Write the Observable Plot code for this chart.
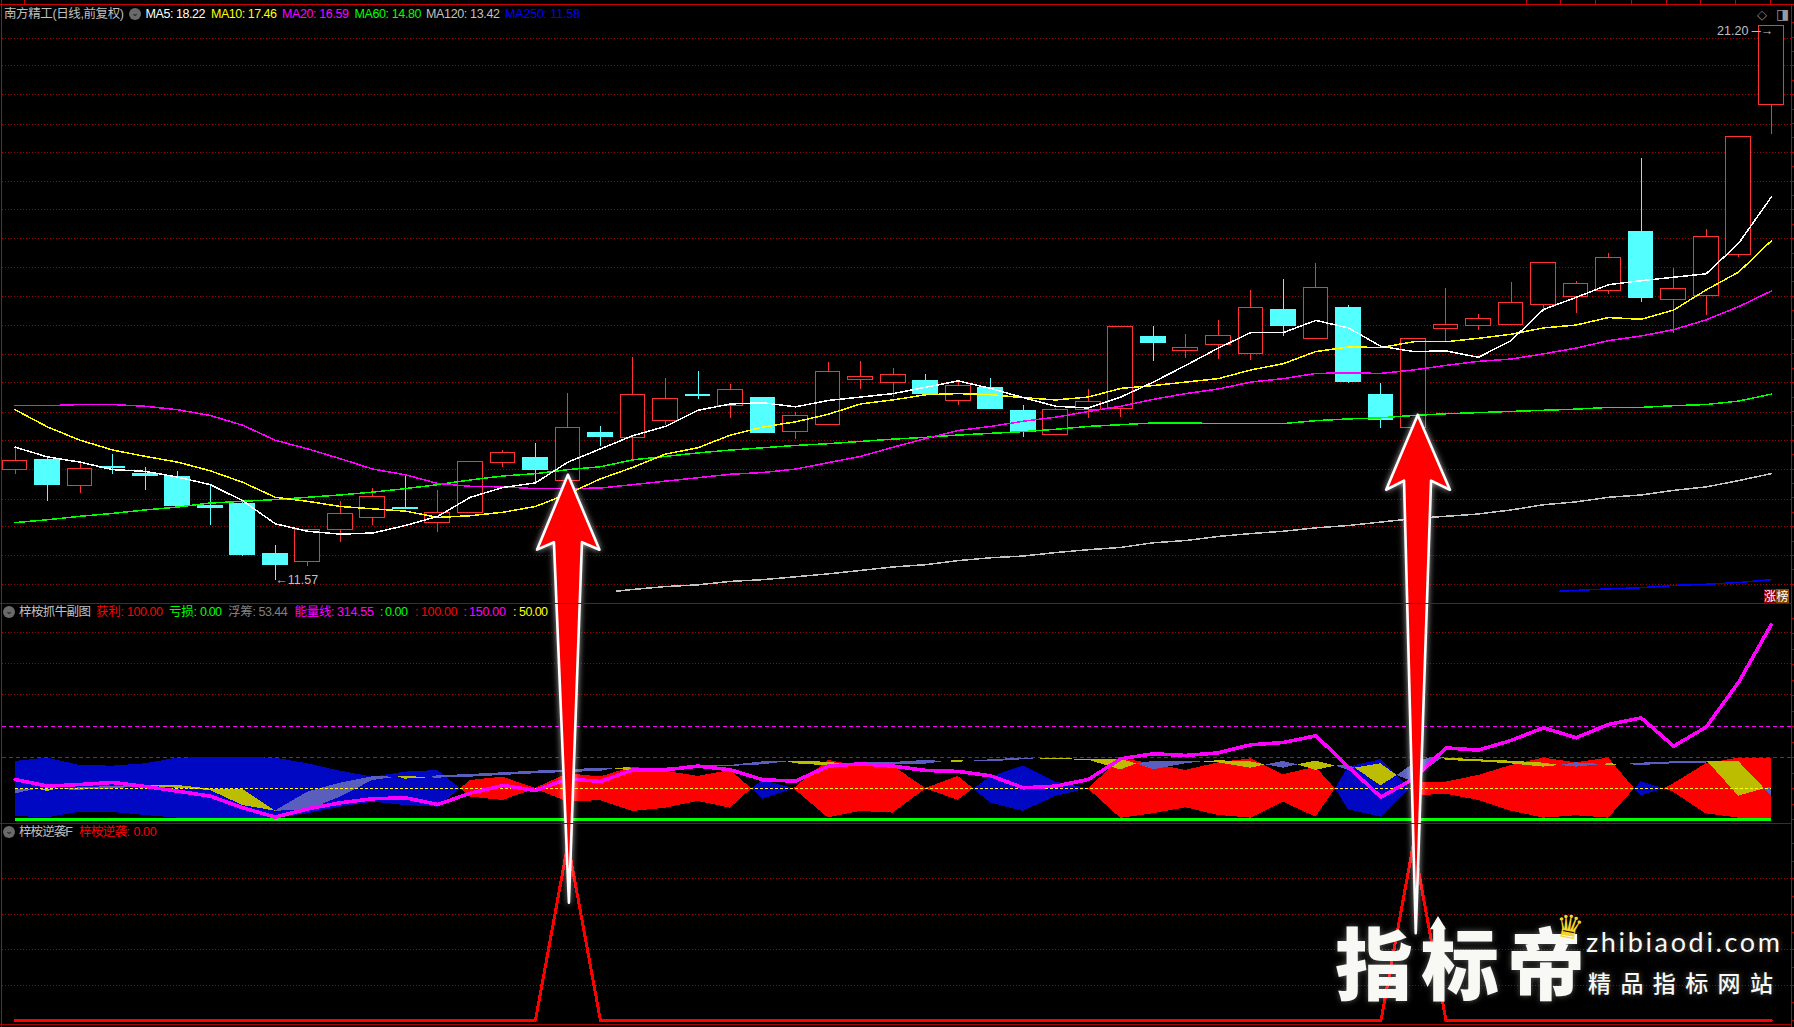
<!DOCTYPE html>
<html><head><meta charset="utf-8">
<script src="https://cdn.jsdelivr.net/npm/d3@7"></script>
<script src="https://cdn.jsdelivr.net/npm/@observablehq/plot@0.6"></script>
<style>
html,body{margin:0;padding:0;background:#000;overflow:hidden}
#root{position:relative;width:1794px;height:1027px;background:#000;overflow:hidden}
#root svg{position:absolute;left:0;display:block;max-width:none}
.lb{position:absolute;white-space:nowrap;line-height:1;transform:translateY(-50%);font-family:"Liberation Sans Narrow","Liberation Sans","Noto Sans CJK SC",sans-serif;font-size:12.5px}
.bar{position:absolute;background:#a80000}
.ic{position:absolute;width:12px;height:12px;border-radius:50%;background:#6a6a6a;color:#222;font:bold 9px/11px "DejaVu Sans";text-align:center}
</style></head><body><div id="root"></div>
<script>
// ---------- main pane data (prices) ----------
const opens=[13.48,13.65,13.20,13.54,13.41,13.37,12.85,12.90,12.02,11.88,12.45,12.65,12.82,12.56,12.73,13.60,13.70,13.30,14.13,14.04,14.34,14.79,14.60,14.74,14.14,14.26,15.04,14.99,15.02,14.68,14.90,14.50,14.09,14.53,14.54,15.79,15.55,15.65,15.49,16.26,15.75,16.30,14.79,14.22,15.93,15.98,16.00,16.34,16.48,16.59,17.61,16.44,16.51,17.21,19.82];
const closes=[13.64,13.22,13.50,13.52,13.38,12.85,12.83,12.00,11.83,12.45,12.72,13.02,12.80,12.74,13.63,13.78,13.48,14.22,14.05,14.79,14.71,14.76,14.88,14.13,14.42,15.19,15.10,15.14,14.81,14.95,14.55,14.15,14.53,14.67,15.97,15.68,15.60,15.81,16.30,15.98,16.65,15.01,14.35,15.76,16.00,16.11,16.39,17.08,16.72,17.17,16.47,16.62,17.52,19.27,21.20];
const highs=[13.86,13.71,13.62,13.75,13.53,13.46,13.20,12.94,12.17,12.45,12.94,13.16,13.39,13.13,13.63,13.82,13.94,14.81,14.24,15.43,15.08,15.19,14.96,14.74,14.48,15.35,15.36,15.25,15.14,15.02,15.07,14.60,14.55,14.88,15.97,15.97,15.84,16.08,16.60,16.79,17.06,16.34,14.98,15.76,16.63,16.18,16.74,17.08,16.76,17.24,18.89,16.99,17.66,19.27,21.20];
const lows=[13.41,12.94,13.08,13.41,13.12,12.82,12.52,11.98,11.57,11.80,12.23,12.52,12.80,12.39,12.73,13.52,13.24,13.30,13.90,13.67,14.26,14.70,14.38,14.12,14.02,14.26,14.88,14.74,14.76,14.61,14.55,14.05,14.09,14.38,14.40,15.37,15.42,15.41,15.39,15.80,15.75,14.99,14.21,14.22,15.71,15.91,16.00,16.27,16.20,16.53,16.40,15.86,16.17,17.17,19.30];
const ma5=[13.88,13.71,13.62,13.49,13.46,13.36,13.23,12.95,12.55,12.42,12.37,12.39,12.52,12.68,13.01,13.18,13.26,13.62,13.85,14.08,14.24,14.52,14.63,14.65,14.58,14.69,14.75,14.81,14.92,15.03,14.90,14.74,14.59,14.56,14.75,15.01,15.30,15.60,15.87,15.87,16.08,15.95,15.63,15.54,15.55,15.44,15.73,16.27,16.48,16.70,16.77,16.83,16.89,17.42,18.22];
const ma10=[14.53,14.23,14.00,13.83,13.72,13.62,13.47,13.27,13.01,12.94,12.85,12.81,12.77,12.66,12.69,12.75,12.85,13.07,13.33,13.53,13.76,13.87,14.09,14.23,14.32,14.45,14.63,14.70,14.79,14.81,14.79,14.74,14.70,14.75,14.90,14.95,15.01,15.07,15.22,15.33,15.54,15.62,15.61,15.71,15.71,15.77,15.84,15.95,16.00,16.13,16.10,16.26,16.61,16.92,17.46];
const ma20=[14.60,14.60,14.62,14.62,14.59,14.53,14.43,14.26,14.00,13.85,13.68,13.50,13.40,13.25,13.20,13.19,13.16,13.16,13.17,13.23,13.29,13.35,13.41,13.44,13.50,13.61,13.72,13.88,14.03,14.17,14.24,14.33,14.40,14.50,14.59,14.71,14.81,14.89,15.01,15.07,15.16,15.17,15.16,15.22,15.30,15.37,15.41,15.50,15.60,15.73,15.81,15.92,16.09,16.32,16.59];
const ma60=[12.57,12.62,12.68,12.73,12.79,12.84,12.91,12.94,12.97,13.01,13.05,13.10,13.16,13.23,13.31,13.38,13.42,13.49,13.54,13.66,13.72,13.78,13.83,13.87,13.91,13.94,13.98,14.02,14.05,14.09,14.12,14.15,14.19,14.24,14.27,14.30,14.30,14.29,14.29,14.29,14.34,14.37,14.39,14.43,14.46,14.48,14.50,14.52,14.54,14.57,14.57,14.60,14.62,14.68,14.80];
const ma120Idx=[18.5,19,20,21,22,23,24,25,26,27,28,29,30,31,32,33,34,35,36,37,38,39,40,41,42,43,44,45,46,47,48,49,50,51,52,53,54];
const ma120=[11.38,11.41,11.46,11.49,11.55,11.58,11.63,11.68,11.74,11.80,11.84,11.91,11.96,11.99,12.05,12.10,12.14,12.22,12.26,12.33,12.38,12.42,12.48,12.52,12.58,12.64,12.68,12.72,12.79,12.88,12.93,13.01,13.05,13.13,13.19,13.30,13.42];
const ma250Idx=[47.5,49,50,51,52,53,54];
const ma250=[11.38,11.42,11.44,11.48,11.50,11.53,11.58];
const priceGrid=[20.98,20.50,20.00,19.49,18.99,18.49,18.00,17.50,17.00,16.49,15.99,15.49,15.00,14.49,13.99,13.49,12.98,12.50,12.00,11.49];

// ---------- indicator pane ----------
const energy=[65,54.3,57,60.2,53.8,46.2,38.2,19.4,4.3,17.7,27.4,33.9,35.5,24.7,43,55.4,47.3,66.1,61.8,80.6,80.6,86.6,80.6,64.5,62.4,86.6,90.3,86.6,79.6,78,71,51.6,54.3,65,98.4,106.5,103.8,108,121,124.7,135.5,85,36.6,66,116,112.4,128,148.4,132.3,153.8,164.5,118.8,149.5,222,314.55];
const bandIdx=[0,1,2,3,4,5,6,7,8,9,10,11,12,13,13.7,14,15,16,17,18,19,20,21,22,22.65,23,23.95,25,26,27,28,29,29.47,30,31,32,33,34,35,36,37,38,39,40,40.6,41,42,42.9,43.3,44,45,46,47,48,49,49.8,50,50.7,51,52,53,54];
const bandTop=[94.1,99.5,87.6,86.6,90.3,99.5,100,100,99.5,90.3,78.5,68.8,76.9,79.6,50,63.4,68.8,50.5,74.2,69,84.9,78.5,69.9,79.6,50,63.4,50,95.7,86.6,86.6,50.5,69.9,50,68.8,86.6,60.8,50,98.4,90.3,79.6,91.9,98.4,72.6,84.9,50,84.9,96.8,50,60.8,60.8,71.5,87.6,99.5,91.9,99.5,50,61.3,50,58,90.3,99.5,99.5];
const bandBot=[5.4,3.2,12.4,11.8,7,2.7,2.7,2.7,2.7,9.7,20.4,28.5,23.1,20.4,50,36.6,31.2,49.5,28.5,31,13.4,18.8,29.6,18.8,50,33.3,50,3.2,13.4,10.8,49.5,31.7,50,26.9,13.4,37.6,50,2.2,9.7,19.4,7,2.7,28.5,4.3,50,16.1,4.3,50,39.2,41.4,31.2,14,2.7,6.5,2.7,50,38.2,50,44.6,9.7,2.7,2.7];
const chipIdx=[0,0.7,1,1.2,2,3,4,5,6,7,8,9,10,11,11.77,12,12.7,13,14,15,16,17,18,18.4,18.8,19.2,20,21,22,23,23.75,24,25,25.4,26,27,28,28.6,29,29.3,30,31,31.4,32,33,34,34.5,35,36,36.5,37,38,38.46,39,39.45,40,40.6,41,41.2,42,42.5,43,43.5,43.9,44,45,46,47,47.5,48,48.8,49,49.5,50,51,52,52.05,53,53.8,54];
const chipTop=[48.9,49.5,49.5,48.4,51.6,53.8,54.3,55.4,49.5,48.9,14,44.6,59.1,69.4,68.8,70.4,67.7,71,73.1,75.8,78.5,80.6,83.3,82.3,83.9,82.8,83.3,86.6,87.6,93.5,93.5,94,93,90.3,91.4,92.5,95.7,94,95.7,94,96.8,99.5,98.4,98.9,97.3,97.3,90.3,94,94.6,93.5,95.2,93.5,88.7,94,88.7,94.6,86.6,87.6,83.3,90.3,71.5,90.3,100,100,99.5,96.8,94.6,91.4,87.6,91.9,89.2,90.3,89.2,91.4,93.5,94,93.5,94,50,52.7];
const chipBot=[41.9,49.5,45.7,48.4,47.8,49.5,54.3,51,47.3,23.1,14,15,36.6,63.4,68.8,65.6,67.7,67.2,68.8,71.5,74.2,76.3,78,82.3,79.6,82.8,81.2,84.9,86,88.7,93.5,90.3,87,90.3,89.2,88.7,89.8,94,92.5,94,93.5,96.8,98.4,96.8,96.2,80.6,90.3,80.6,90.3,93.5,91.9,83.3,88.7,83.3,88.7,79.6,86.6,79.6,83.3,54.8,71.5,60.8,85,100,95.7,93.5,90.3,85,87.6,85,89.2,87.6,89.2,87.6,90.3,91.4,93.5,38.2,50,38.2];
const levels=[150,100];
const midLevel=50;
const subGrid=[301.6,251.6,201.6];

// ---------- signal pane ----------
const signal=[0,0,0,0,0,0,0,0,0,0,0,0,0,0,0,0,0,100,0,0,0,0,0,0,0,0,0,0,0,0,0,0,0,0,0,0,0,0,0,0,0,0,0,100,0,0,0,0,0,0,0,0,0,0,0];
const sigGrid=[80,60,40,20];

// ---------- annotation arrows: [candle index, price level on the extended main scale] ----------
const arrowA=[[17.0,13.40],[17.97,12.10],[17.43,12.23],[17.03,5.97],[16.57,12.23],[16.05,12.10],[17.0,13.40]];
const arrowB=[[43.13,14.44],[44.12,13.14],[43.54,13.30],[43.07,5.44],[42.71,13.30],[42.16,13.14],[43.13,14.44]];

// ---------- text ----------
const headMain=[["南方精工(日线,前复权)",4,120,"#c0c0c0"],["MA5: 18.22",145.5,60,"#ffffff"],["MA10: 17.46",211,66,"#ffff00"],["MA20: 16.59",282,67,"#ff00ff"],["MA60: 14.80",354.5,67,"#00ff00"],["MA120: 13.42",426,74,"#c0c0c0"],["MA250: 11.58",505,75,"#0000ff"]];
const headSub=[["梓桉抓牛副图",19,72,"#c0c0c0"],["获利:",96,28,"#ff0000"],["100.00",127,36,"#ff0000"],["亏损:",169,28,"#00ff00"],["0.00",200,22,"#00ff00"],["浮筹:",228,28,"#808080"],["53.44",258.6,29,"#808080"],["能量线:",294.6,40,"#ff00ff"],["314.55",337,37,"#ff00ff"],[":",380,3,"#00ff00"],["0.00",385,23,"#00ff00"],[":",415,3,"#ff0000"],["100.00",421,36.5,"#ff0000"],[":",463.4,3,"#ff00ff"],["150.00",469,37,"#ff00ff"],[":",513,3,"#ffff00"],["50.00",519,29,"#ffff00"]];
const headSig=[["梓桉逆袭F",19,54,"#c0c0c0"],["梓桉逆袭:",79,51,"#ff0000"],["0.00",133.6,23,"#ff0000"]];

// ---------- build ----------
const candles=opens.map((o,i)=>({i,o,c:closes[i],h:highs[i],l:lows[i],col:closes[i]>=opens[i]?"#ff3232":"#54ffff",up:closes[i]>=opens[i]}));
const xs={type:"linear",domain:[-0.387,54.624],axis:null};
const base={width:1794,marginLeft:2,marginRight:3,marginTop:0,marginBottom:0,x:xs,style:{background:"transparent",overflow:"visible"}};
const G="#a00000";
const CR="crispEdges";
const gridOpts={stroke:G,strokeWidth:1,strokeDasharray:"1 2",shapeRendering:CR};
function seq(arr,ix){return arr.map((v,k)=>({i:ix?ix[k]:k,v}));}
function ln(arr,color,w,ix){return Plot.line(seq(arr,ix),{x:"i",y:"v",stroke:color,strokeWidth:w,curve:"linear",shapeRendering:CR});}
function tickMarks(vals){return Plot.ruleY(vals,{x1:54.624,x2:54.72,stroke:"#a80000",strokeWidth:1,shapeRendering:CR});}

const main=Plot.plot({...base,height:603,y:{domain:[11.166,21.634],range:[603,0],axis:null},color:{type:"identity"},marks:[
  Plot.ruleY(priceGrid,gridOpts),
  tickMarks(d3.range(11.5,21.3,0.25)),
  Plot.ruleX(candles,{x:"i",y1:"l",y2:"h",stroke:"col",strokeWidth:1,shapeRendering:CR}),
  Plot.rect(candles,{x1:d=>d.i-0.38,x2:d=>d.i+0.38,y1:d=>Math.min(d.o,d.c),y2:d=>Math.max(d.o,d.c),fill:d=>d.up?"#000000":"#54ffff",stroke:"col",strokeWidth:1,shapeRendering:CR}),
  ln(ma250,"#0000ff",1.5,ma250Idx),
  ln(ma120,"#c4c4c4",1.5,ma120Idx),
  ln(ma60,"#00ff00",1.5),
  ln(ma20,"#ff00ff",1.5),
  ln(ma10,"#ffff00",1.5),
  ln(ma5,"#ffffff",1.5),
  Plot.text([{i:8,p:11.57}],{x:"i",y:"p",text:()=>"←11.57",dx:0,textAnchor:"start",fill:"#c0c0c0",fontSize:12.5,fontFamily:"Liberation Sans"}),
  Plot.text([{i:54,p:21.0}],{x:"i",y:"p",text:()=>"21.20 ─→",dx:2,dy:-6,textAnchor:"end",fill:"#c0c0c0",fontSize:12.5,fontFamily:"Liberation Sans"})
]});
main.style.top="0px";

function split(ix,top,bot,colA,colB){
  let seg=0;const out=[];
  ix.forEach((i,k)=>{
    const cross=top[k]===bot[k]&&k>0&&k<ix.length-1;
    out.push({i,top:top[k],bot:bot[k],seg,col:seg%2?colB:colA});
    if(cross){seg++;out.push({i,top:top[k],bot:bot[k],seg,col:seg%2?colB:colA});}
  });
  return out;
}
const band=split(bandIdx,bandTop,bandBot,"#0008c4","#ff0000");
const chips=split(chipIdx,chipTop,chipBot,"#5a5fbe","#bcbc00");
const sub=Plot.plot({...base,height:220,y:{domain:[-5.97,348.9],range:[220,0],axis:null},color:{type:"identity"},marks:[
  Plot.ruleY(subGrid,gridOpts),
  tickMarks(d3.range(0,350,25)),
  Plot.ruleY([levels[0]],{stroke:"#ff00ff",strokeWidth:1,strokeDasharray:"4 3",shapeRendering:CR}),
  Plot.ruleY([levels[1]],{stroke:"#e00000",strokeWidth:1,strokeDasharray:"4 3",shapeRendering:CR}),
  Plot.areaY(band,{x:"i",y1:"bot",y2:"top",z:"seg",fill:"col",curve:"linear",shapeRendering:CR}),
  Plot.areaY(chips,{x:"i",y1:"bot",y2:"top",z:"seg",fill:"col",curve:"linear",shapeRendering:CR}),
  Plot.ruleY([0],{x1:0,x2:54,stroke:"#00ff00",strokeWidth:3,shapeRendering:CR}),
  Plot.ruleY([midLevel],{x1:0,x2:54,stroke:"#ffff00",strokeWidth:1,strokeDasharray:"3 2",shapeRendering:CR}),
  ln(energy,"#ff00ff",3.6)
]});
sub.style.top="603px";

const sig=Plot.plot({...base,height:204,y:{domain:[-3.95,111.3],range:[204,0],axis:null},marks:[
  Plot.ruleY(sigGrid,gridOpts),
  tickMarks(d3.range(0,110,10)),
  ln(signal,"#ff0000",3)
]});
sig.style.top="823px";

const arrows=[...arrowA.map(p=>({k:"a",i:p[0],v:p[1]})),...arrowB.map(p=>({k:"b",i:p[0],v:p[1]}))];
const over=Plot.plot({...base,height:1027,style:{background:"transparent",overflow:"visible",filter:"drop-shadow(0 0 3px rgba(255,255,255,.65))"},y:{domain:[3.805,21.634],range:[1027,0],axis:null},marks:[
  Plot.line(arrows,{x:"i",y:"v",z:"k",fill:"#ff0000",stroke:"#ffffff",strokeWidth:2.6,strokeLinejoin:"round",curve:"linear"})
]});
over.style.top="0px";

const root=document.getElementById("root");
[main,sub,sig,over].forEach(n=>root.appendChild(n));

function bar(l,t,w,h,c){const d=document.createElement("div");d.className="bar";d.style.cssText=`left:${l}px;top:${t}px;width:${w}px;height:${h}px;${c?"background:"+c:""}`;root.appendChild(d);return d;}
bar(0,4,1794,1,"#d00000");bar(24,0,1,4,"#d00000");
[1526,1560,1595,1631,1666,1700,1735,1770].forEach(x=>bar(x,0,1,4,"#d00000"));
bar(0,603,1791,1);bar(0,823,1791,1);bar(0,1024,1791,1);
bar(1,0,1,1027,"#c80000");bar(1791,4,1,1023,"#c80000");

function label(t,x,y,w,c,extra){
  const s=document.createElement("span");s.className="lb";s.textContent=t;
  s.style.left=x+"px";s.style.top=y+"px";s.style.color=c;if(extra)Object.assign(s.style,extra);
  root.appendChild(s);
  if(w&&t.length>1){const m=s.getBoundingClientRect().width;s.style.letterSpacing=((w-m)/(t.length-1))+"px";}
  return s;
}
headMain.forEach(h=>label(h[0],h[1],13.7,h[2],h[3]));
headSub.forEach(h=>label(h[0],h[1],612,h[2],h[3]));
headSig.forEach(h=>label(h[0],h[1],831.7,h[2],h[3]));
function icon(x,y){const d=document.createElement("div");d.className="ic";d.textContent="⌄";d.style.left=x+"px";d.style.top=y+"px";root.appendChild(d);}
icon(129,8);icon(3,606);icon(3,826);
label("◇",1757,14,0,"#8a8a8a",{fontFamily:"DejaVu Sans",fontSize:"13px"});
label("◨",1776,14,0,"#9a9a9a",{fontFamily:"DejaVu Sans",fontSize:"14px"});
label("涨",1764,595.5,0,"#fff",{fontFamily:"Noto Sans CJK SC",fontSize:"12px",background:"#8a0000",padding:"1px 0",width:"12px",textAlign:"center"});
label("榜",1776,595.5,0,"#fff",{fontFamily:"Noto Sans CJK SC",fontSize:"12px",background:"#8a4500",padding:"1px 0",width:"13px",textAlign:"center"});

// watermark
const wmShadow="0 0 6px rgba(255,255,255,.35)";
label("指标帝",1335,960,250,"#f8f9f5",{fontFamily:"Noto Sans CJK SC",fontWeight:"900",fontSize:"78px",textShadow:wmShadow});
label("zhibiaodi.com",1586,941,194,"#f8f9f5",{fontFamily:"Lato",fontSize:"27px",textShadow:wmShadow});
label("精品指标网站",1588,982,185,"#f8f9f5",{fontFamily:"Noto Sans CJK SC",fontSize:"23px",fontWeight:"500",textShadow:wmShadow});
label("♛",1555,927,0,"#f6d32d",{fontFamily:"DejaVu Sans",fontSize:"32px",transform:"translateY(-50%) rotate(10deg)"});
const tip=bar(1430,916,16,22,"#f8f9f5");
tip.style.clipPath="polygon(50% 0,100% 60%,68% 60%,68% 100%,32% 100%,32% 60%,0 60%)";
</script></body></html>
